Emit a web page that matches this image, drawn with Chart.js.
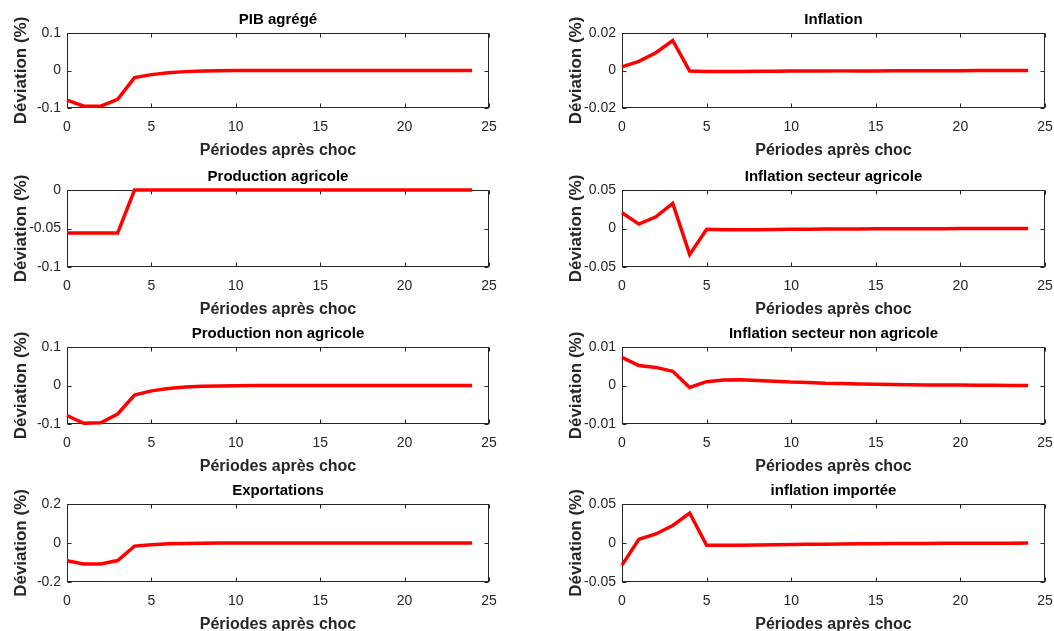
<!DOCTYPE html>
<html>
<head>
<meta charset="utf-8">
<script src="https://cdn.jsdelivr.net/npm/chart.js@4"></script>
<style>
html,body{margin:0;padding:0;background:#fff;width:1054px;height:631px;overflow:hidden;}
.panel{position:absolute;}
canvas{display:block;}
</style>
</head>
<body>
<script>
// ---- data ----
const periods = [0,1,2,3,4,5,6,7,8,9,10,11,12,13,14,15,16,17,18,19,20,21,22,23,24];
const xTicks = [0,5,10,15,20,25];

const pibAgrege = [-0.079,-0.095,-0.095,-0.077,-0.019,-0.011,-0.006,-0.003,-0.0015,-0.0005,0.0002,0.0003,0.0003,0.0002,0.0002,0.0001,0.0001,0.0001,0,0,0,0,0,0,0];
const inflation = [0.0019,0.0049,0.0095,0.016,-0.0003,-0.0005,-0.0005,-0.0005,-0.0004,-0.0004,-0.0003,-0.0003,-0.0003,-0.0002,-0.0002,-0.0002,-0.0001,-0.0001,-0.0001,-0.0001,-0.0001,0,0,0,0];
const prodAgricole = [-0.056,-0.056,-0.056,-0.056,0,0,0,0,0,0,0,0,0,0,0,0,0,0,0,0,0,0,0,0,0];
const inflAgricole = [0.0204,0.0057,0.0152,0.0326,-0.0339,-0.0009,-0.0017,-0.0017,-0.0015,-0.0013,-0.0011,-0.0009,-0.0007,-0.0006,-0.0005,-0.0004,-0.0003,-0.0003,-0.0002,-0.0002,-0.0001,-0.0001,-0.0001,0,0];
const prodNonAgricole = [-0.078,-0.098,-0.097,-0.074,-0.025,-0.014,-0.008,-0.004,-0.002,-0.001,-0.0004,0,0,0,0,0,0,0,0,0,0,0,0,0,0];
const inflNonAgricole = [0.0073,0.0052,0.0047,0.0037,-0.0005,0.001,0.0014,0.0015,0.0013,0.0011,0.0009,0.0008,0.0006,0.0005,0.0004,0.0003,0.00025,0.0002,0.00015,0.0001,0.0001,0.00007,0.00005,0.00003,0.00002];
const exportations = [-0.091,-0.108,-0.108,-0.090,-0.016,-0.009,-0.004,-0.002,-0.001,-0.0005,0,0,0,0,0,0,0,0,0,0,0,0,0,0,0];
const inflImportee = [-0.0284,0.0047,0.0116,0.0224,0.0384,-0.003,-0.003,-0.0028,-0.0025,-0.0022,-0.002,-0.0017,-0.0015,-0.0013,-0.0011,-0.0009,-0.0008,-0.0006,-0.0005,-0.0004,-0.0003,-0.0003,-0.0002,-0.0002,-0.0001];

const yTicksPib = [-0.1,0,0.1];
const yTicksInfl = [-0.02,0,0.02];
const yTicksProdAgr = [-0.1,-0.05,0];
const yTicksInflAgr = [-0.05,0,0.05];
const yTicksProdNonAgr = [-0.1,0,0.1];
const yTicksInflNonAgr = [-0.01,0,0.01];
const yTicksExp = [-0.2,0,0.2];
const yTicksInflImp = [-0.05,0,0.05];

const titles = ['PIB agrégé','Inflation','Production agricole','Inflation secteur agricole',
  'Production non agricole','Inflation secteur non agricole','Exportations','inflation importée'];
const xLabel = 'Périodes après choc';
const yLabel = 'Déviation (%)';

// ---- layout ----
const panels = [
  {series: pibAgrege, yt: yTicksPib, col:0, row:0},
  {series: inflation, yt: yTicksInfl, col:1, row:0},
  {series: prodAgricole, yt: yTicksProdAgr, col:0, row:1},
  {series: inflAgricole, yt: yTicksInflAgr, col:1, row:1},
  {series: prodNonAgricole, yt: yTicksProdNonAgr, col:0, row:2},
  {series: inflNonAgricole, yt: yTicksInflNonAgr, col:1, row:2},
  {series: exportations, yt: yTicksExp, col:0, row:3},
  {series: inflImportee, yt: yTicksInflImp, col:1, row:3},
];
const plotTops = [33,190,347,504];
const plotHeights = [75,77,77,78];
const colLeft = [0,555];
const colWidth = [500,499];
const colPadRight = [11,9];
const TITLE_H = 26, XAXIS_H = 52, YAXIS_W = 67;
const FONT = "'Liberation Sans', Arial, Helvetica, sans-serif";

const boxPlugin = {
  id: 'matlabBox',
  beforeDatasetsDraw(chart) {
    const {ctx, chartArea: a} = chart;
    ctx.save();
    ctx.strokeStyle = '#262626';
    ctx.lineWidth = 1;
    const L = Math.round(a.left) + 0.5, R = Math.round(a.right) - 0.5;
    const T = Math.round(a.top) + 0.5, B = Math.round(a.bottom) - 0.5;
    ctx.strokeRect(L, T, R - L, B - T);
    const tl = 4;
    ctx.beginPath();
    chart.scales.x.ticks.forEach(t => {
      const px = Math.round(chart.scales.x.getPixelForValue(t.value)) + 0.5;
      ctx.moveTo(px, B); ctx.lineTo(px, B - tl);
      ctx.moveTo(px, T); ctx.lineTo(px, T + tl);
    });
    chart.scales.y.ticks.forEach(t => {
      const py = Math.round(chart.scales.y.getPixelForValue(t.value)) + 0.5;
      ctx.moveTo(L, py); ctx.lineTo(L + tl, py);
      ctx.moveTo(R, py); ctx.lineTo(R - tl, py);
    });
    ctx.stroke();
    ctx.restore();
  }
};

panels.forEach((p, i) => {
  const top = plotTops[p.row] - TITLE_H;
  const h = TITLE_H + plotHeights[p.row] + XAXIS_H;
  const div = document.createElement('div');
  div.className = 'panel';
  div.style.left = colLeft[p.col] + 'px';
  div.style.top = top + 'px';
  const cv = document.createElement('canvas');
  cv.width = colWidth[p.col];
  cv.height = h;
  cv.style.width = colWidth[p.col] + 'px';
  cv.style.height = h + 'px';
  div.appendChild(cv);
  document.body.appendChild(div);

  new Chart(cv, {
    type: 'line',
    data: {
      datasets: [{
        data: periods.map((x, k) => ({x: x, y: p.series[k]})),
        borderColor: '#ff0000',
        borderWidth: 3.5,
        pointRadius: 0,
        tension: 0,
        fill: false,
        clip: 4
      }]
    },
    options: {
      responsive: false,
      devicePixelRatio: 1,
      animation: false,
      events: [],
      layout: {padding: {left: 0, right: colPadRight[p.col], top: 0, bottom: 0}},
      plugins: {
        legend: {display: false},
        tooltip: {enabled: false},
        title: {
          display: true, text: titles[i], fullSize: false,
          color: '#000',
          font: {family: FONT, size: 15, weight: 'bold'},
          padding: {top: 4, bottom: 4}
        }
      },
      scales: {
        x: {
          type: 'linear', min: xTicks[0], max: xTicks[xTicks.length - 1],
          afterBuildTicks: s => { s.ticks = xTicks.map(v => ({value: v})); },
          afterFit: s => { s.height = XAXIS_H; s.paddingLeft = 0; s.paddingRight = 0; },
          grid: {display: false, drawTicks: false},
          border: {display: false},
          ticks: {padding: 11, color: '#262626', font: {family: FONT, size: 14},
                  maxRotation: 0, autoSkip: false, callback: v => String(v)},
          title: {display: true, text: xLabel, color: '#262626',
                  font: {family: FONT, size: 16, weight: 'bold'}, padding: {top: 0, bottom: 0}}
        },
        y: {
          type: 'linear', min: p.yt[0], max: p.yt[p.yt.length - 1],
          afterBuildTicks: s => { s.ticks = p.yt.map(v => ({value: v})); },
          afterFit: s => { s.width = YAXIS_W; s.paddingTop = 0; s.paddingBottom = 0; },
          grid: {display: false, drawTicks: false},
          border: {display: false},
          ticks: {padding: 6, color: '#262626', font: {family: FONT, size: 14},
                  autoSkip: false, callback: v => String(Math.round(v * 1000) / 1000)},
          title: {display: true, text: yLabel, color: '#262626',
                  font: {family: FONT, size: 17, weight: 'bold'}, padding: {top: 11, bottom: 0}}
        }
      }
    },
    plugins: [boxPlugin]
  });
});
</script>
</body>
</html>
